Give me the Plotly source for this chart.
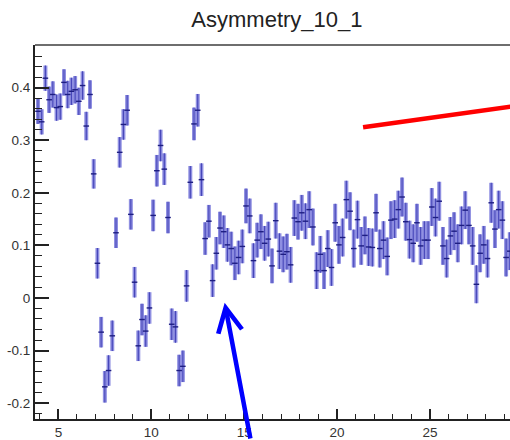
import plotly.graph_objects as go

title_text = "Asymmetry_10_1"

x_vals = [
    3.9, 4.1, 4.3, 4.5, 4.7, 4.9, 5.1, 5.3, 5.5, 5.7, 5.9, 6.1, 6.3, 6.5, 6.7, 6.9,
    7.1, 7.3, 7.5, 7.7, 7.9, 8.1, 8.3, 8.5, 8.7, 8.9, 9.1, 9.3, 9.5, 9.7, 9.9,
    10.1, 10.3, 10.5, 10.7, 10.9, 11.1, 11.3, 11.5, 11.7, 11.9,
    12.1, 12.3, 12.5, 12.7, 12.9, 13.1, 13.3, 13.5, 13.7, 13.9,
    14.1, 14.3, 14.5, 14.7, 14.9, 15.1, 15.3, 15.5, 15.7, 15.9,
    16.1, 16.3, 16.5, 16.7, 16.9, 17.1, 17.3, 17.5, 17.7, 17.9,
    18.1, 18.3, 18.5, 18.7, 18.9, 19.1, 19.3, 19.5, 19.7, 19.9,
    20.1, 20.3, 20.5, 20.7, 20.9, 21.1, 21.3, 21.5, 21.7, 21.9,
    22.1, 22.3, 22.5, 22.7, 22.9, 23.1, 23.3, 23.5, 23.7, 23.9,
    24.1, 24.3, 24.5, 24.7, 24.9, 25.1, 25.3, 25.5, 25.7, 25.9,
    26.1, 26.3, 26.5, 26.7, 26.9, 27.1, 27.3, 27.5, 27.7, 27.9,
    28.1, 28.3, 28.5, 28.7, 28.9, 29.1, 29.3,
]

asym = [
    0.355, 0.335, 0.418, 0.377, 0.387, 0.362, 0.364, 0.410, 0.387, 0.393, 0.396, 0.374, 0.404, 0.327, 0.387, 0.236,
    0.066, -0.065, -0.169, -0.138, -0.072, 0.124, 0.277, 0.330, 0.357, 0.159, 0.030, -0.091, -0.041, -0.063, -0.019,
    0.157, 0.242, 0.290, 0.245, 0.153, -0.050, -0.055, -0.138, -0.130, 0.023,
    0.220, 0.331, 0.357, 0.225, 0.113, 0.146, 0.033, 0.085, 0.133, 0.126,
    0.101, 0.094, 0.066, 0.077, 0.098, 0.175, 0.156, 0.071, 0.110, 0.126,
    0.104, 0.112, 0.061, 0.147, 0.089, 0.083, 0.088, 0.063, 0.152, 0.145,
    0.162, 0.146, 0.168, 0.135, 0.052, 0.083, 0.052, 0.094, 0.058, 0.143,
    0.101, 0.115, 0.187, 0.165, 0.094, 0.149, 0.099, 0.119, 0.097, 0.096,
    0.162, 0.094, 0.110, 0.079, 0.148, 0.150, 0.168, 0.192, 0.145, 0.111,
    0.104, 0.143, 0.099, 0.110, 0.110, 0.173, 0.153, 0.184, 0.099, 0.075,
    0.118, 0.127, 0.104, 0.138, 0.167, 0.138, 0.099, 0.026, 0.085, 0.101,
    0.075, 0.181, 0.131, 0.168, 0.148, 0.077, 0.089,
]

asym_err = [
    0.024, 0.024, 0.024, 0.025, 0.025, 0.025, 0.025, 0.025, 0.026, 0.026, 0.026, 0.026, 0.027, 0.027, 0.027, 0.028,
    0.029, 0.029, 0.030, 0.029, 0.029, 0.029, 0.029, 0.029, 0.029, 0.029, 0.029, 0.029, 0.030, 0.030, 0.030,
    0.030, 0.030, 0.030, 0.030, 0.030, 0.030, 0.030, 0.030, 0.030, 0.030,
    0.031, 0.031, 0.031, 0.031, 0.031, 0.031, 0.031, 0.031, 0.031, 0.031,
    0.032, 0.032, 0.032, 0.032, 0.032, 0.033, 0.033, 0.033, 0.033, 0.033,
    0.033, 0.033, 0.033, 0.034, 0.034, 0.034, 0.034, 0.034, 0.034, 0.034,
    0.034, 0.034, 0.035, 0.035, 0.035, 0.035, 0.035, 0.035, 0.035, 0.036,
    0.036, 0.036, 0.036, 0.036, 0.036, 0.036, 0.036, 0.036, 0.036, 0.036,
    0.036, 0.036, 0.036, 0.036, 0.036, 0.036, 0.036, 0.037, 0.036, 0.036,
    0.036, 0.036, 0.036, 0.036, 0.036, 0.036, 0.036, 0.037, 0.036, 0.036,
    0.036, 0.036, 0.036, 0.036, 0.036, 0.036, 0.036, 0.036, 0.036, 0.036,
    0.036, 0.038, 0.036, 0.036, 0.036, 0.036, 0.036,
]

x_tickvals = [5, 10, 15, 20, 25]
x_ticktext = ["5", "10", "15", "20", "25"]
y_tickvals = [-0.2, -0.1, 0.0, 0.1, 0.2, 0.3, 0.4]
y_ticktext = ["-0.2", "-0.1", "0", "0.1", "0.2", "0.3", "0.4"]

# red line (data coordinates) and blue arrow tip
red_line_x = [21.4, 31.0]
red_line_y = [0.3245, 0.372]
arrow_tip = (13.95, -0.009)

FONT = "Liberation Sans, Arial, Helvetica, sans-serif"

fig = go.Figure()
# wide, light error band
fig.add_trace(go.Scatter(
    x=x_vals, y=asym, mode="markers",
    marker=dict(size=1, color="rgba(0,0,0,0)"),
    error_y=dict(type="data", array=asym_err, visible=True, thickness=4,
                 width=0, color="rgba(105,105,215,0.75)"),
    showlegend=False, hoverinfo="skip",
))
# thin darker core
fig.add_trace(go.Scatter(
    x=x_vals, y=asym, mode="markers",
    marker=dict(symbol="line-ew", size=4, line=dict(width=1.4, color="rgb(30,30,130)"),
                color="rgb(30,30,130)"),
    error_y=dict(type="data", array=asym_err, visible=True, thickness=1.1,
                 width=0, color="rgb(70,70,185)"),
    showlegend=False,
))

fig.add_shape(type="line", xref="x", yref="y",
              x0=red_line_x[0], y0=red_line_y[0], x1=red_line_x[1], y1=red_line_y[1],
              line=dict(color="rgb(255,0,0)", width=4.5))

# top frame line
fig.add_shape(type="line", xref="paper", yref="paper", x0=0, x1=1, y0=1, y1=1,
              line=dict(color="rgb(110,110,110)", width=2))

fig.add_annotation(x=arrow_tip[0], y=arrow_tip[1], xref="x", yref="y",
                   text="", showarrow=True, ax=26, ay=160,
                   arrowhead=5, arrowsize=1.05, arrowwidth=4.5,
                   arrowcolor="rgb(0,0,255)", standoff=0)

fig.update_layout(
    width=510, height=440,
    margin=dict(l=35, r=0, t=45, b=18),
    paper_bgcolor="white", plot_bgcolor="white",
    font=dict(family=FONT, size=13, color="#222"),
    title=dict(text=title_text, x=0.543, xref="container", xanchor="center",
               y=1 - 19 / 440, yref="container", yanchor="middle",
               font=dict(family=FONT, size=22, color="#222")),
)
fig.update_xaxes(
    range=[3.74, 29.31], showgrid=False, zeroline=False,
    showline=True, linecolor="#222", linewidth=2,
    ticks="inside", ticklen=10, tickwidth=1.6, tickcolor="#222",
    tickvals=x_tickvals, ticktext=x_ticktext,
    minor=dict(ticks="inside", ticklen=5, tickwidth=1.4, tickcolor="#222", dtick=1, showgrid=False),
    tickfont=dict(family=FONT, size=13.5, color="#333"),
)
fig.update_yaxes(
    range=[-0.2302, 0.4811], showgrid=False, zeroline=False,
    showline=True, linecolor="#222", linewidth=2,
    ticks="inside", ticklen=14, tickwidth=1.8, tickcolor="#222",
    tickvals=y_tickvals, ticktext=y_ticktext,
    minor=dict(ticks="inside", ticklen=7, tickwidth=1.4, tickcolor="#222", dtick=0.02, showgrid=False),
    tickfont=dict(family=FONT, size=13.5, color="#333"),
)

fig.write_html("out.html")
